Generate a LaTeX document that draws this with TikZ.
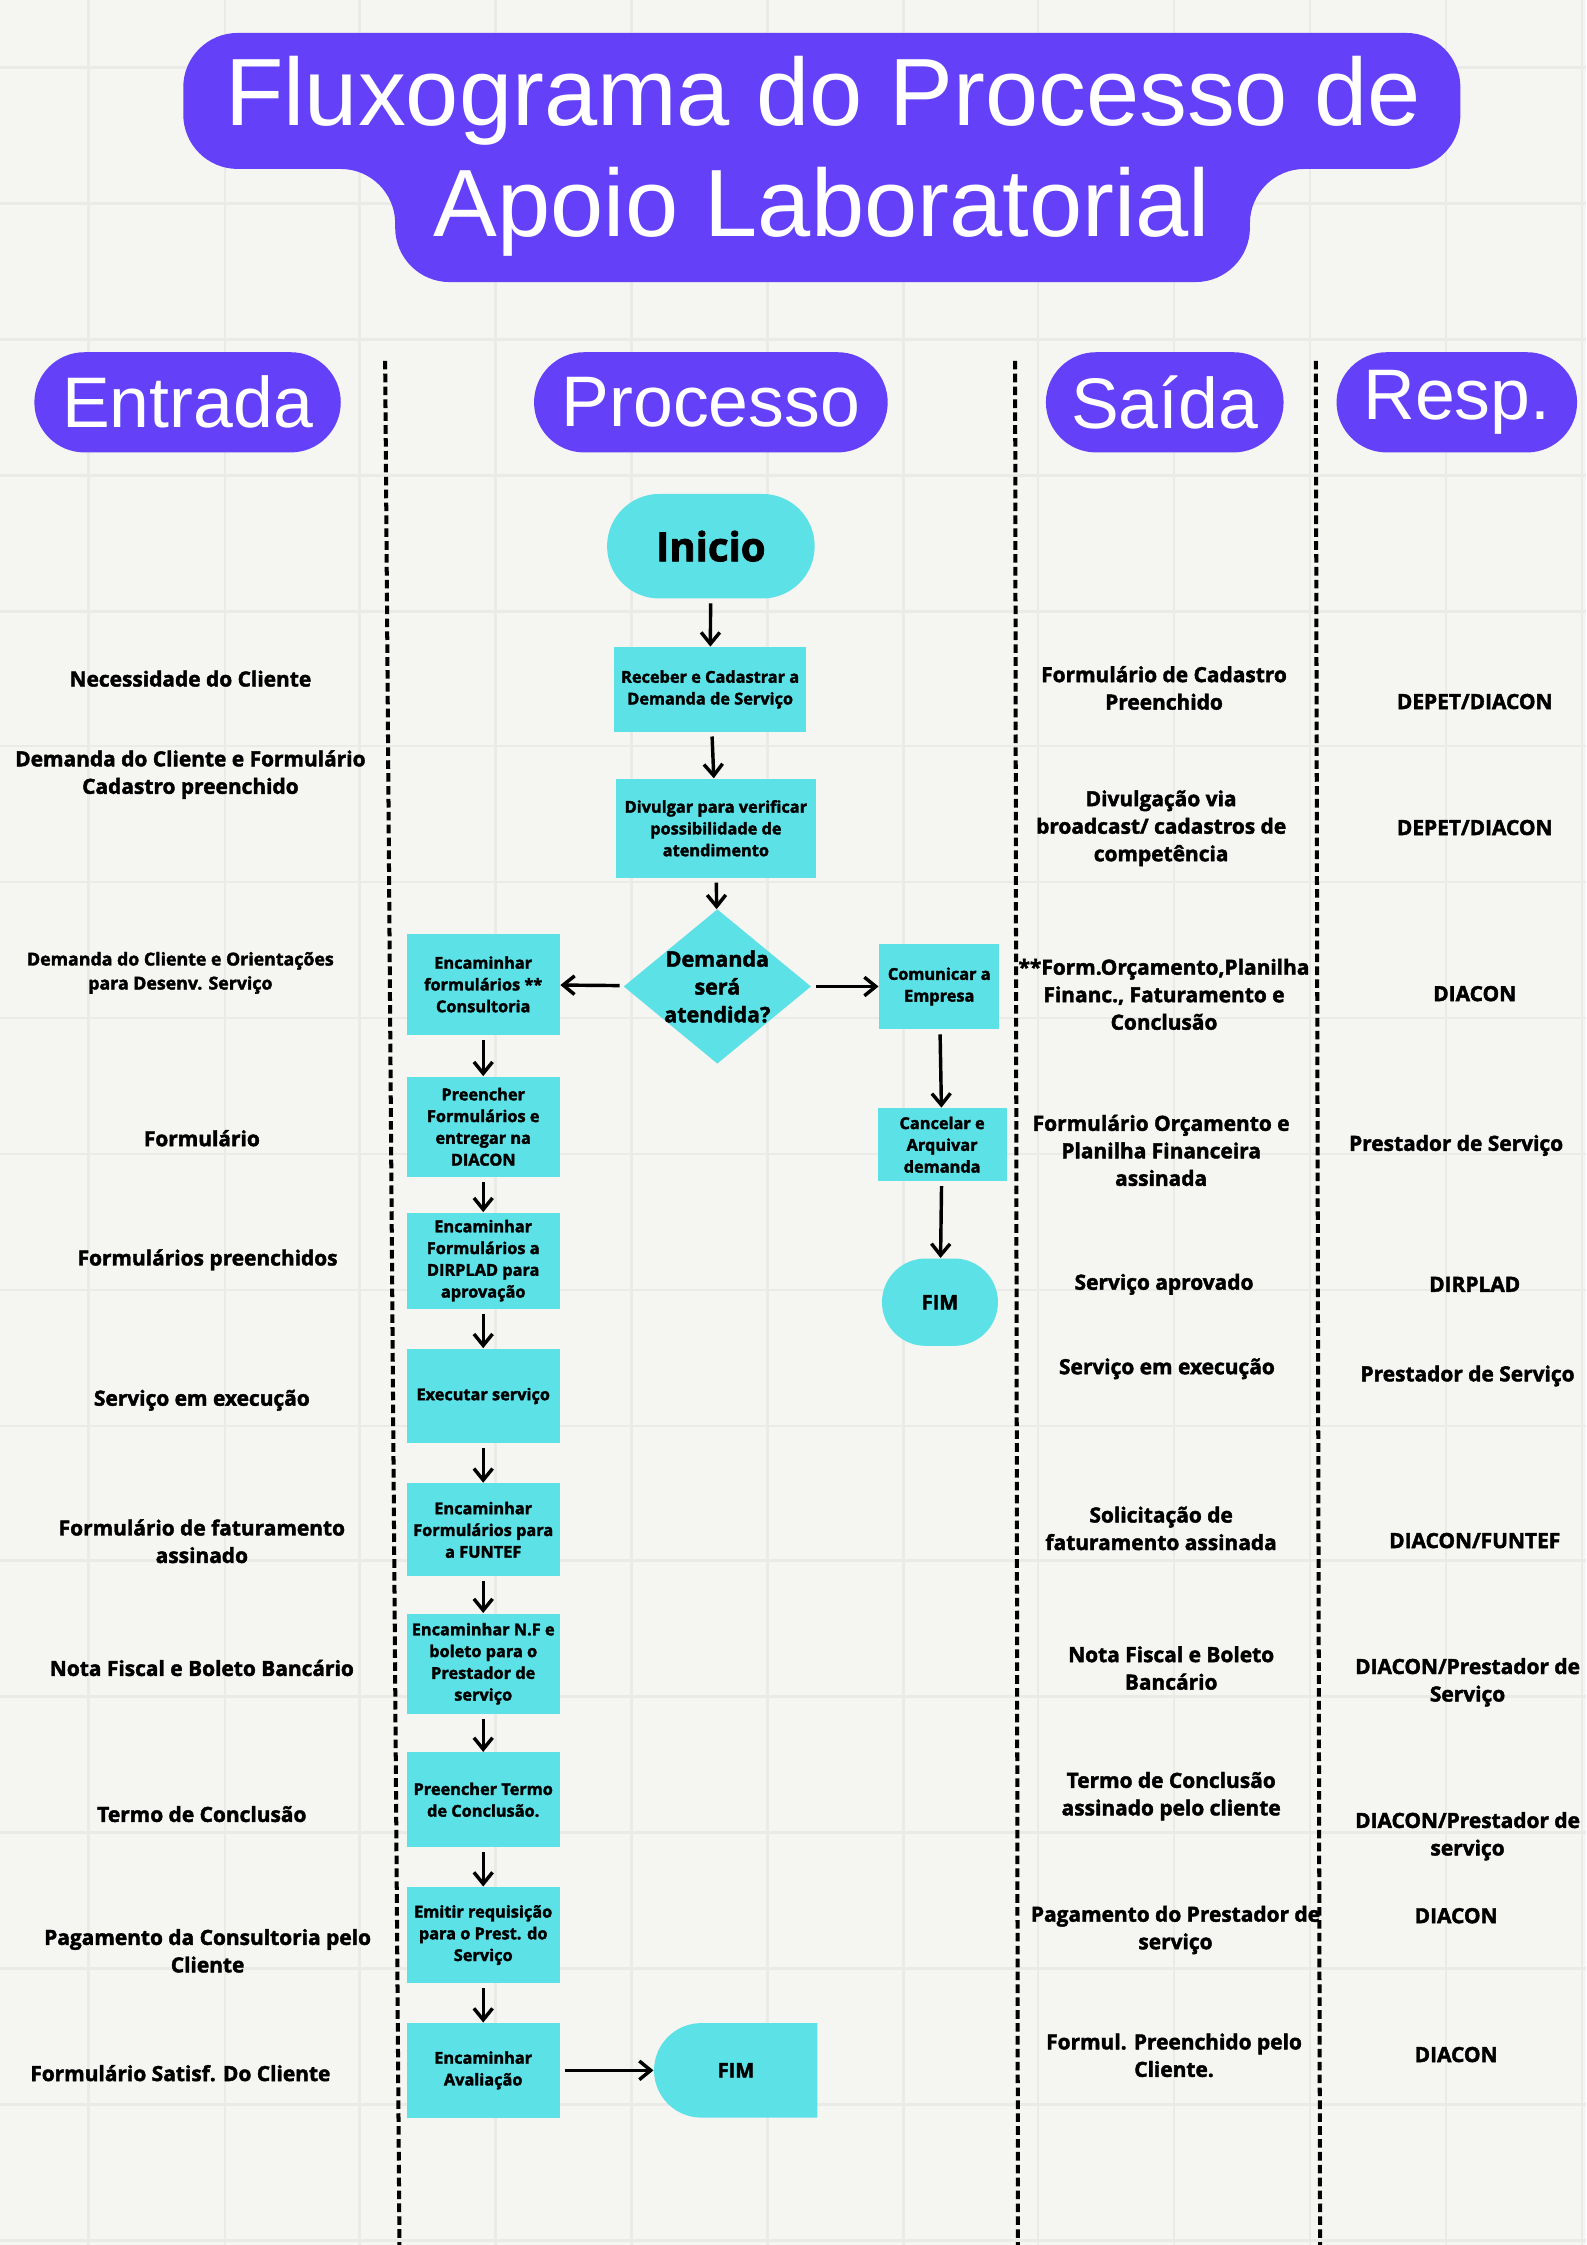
\documentclass[tikz,border=0pt]{standalone}
\usepackage{fontspec}
\setmainfont{Open Sans}[BoldFeatures={FakeBold=2}]
\newfontfamily\titlefont{Liberation Sans}
\usetikzlibrary{arrows.meta,shapes.geometric,shapes.misc}
\definecolor{roxo}{HTML}{6441F9}
\definecolor{ciano}{HTML}{5CE1E6}
\definecolor{fundo}{HTML}{F5F5F1}
\definecolor{linhagrade}{HTML}{EAEAE6}

\begin{document}
\begin{tikzpicture}[x=0.5pt,y=-0.5pt,
        caixa/.style={fill=ciano, align=center, inner sep=1pt, minimum width=53.5pt,
                      font=\fontsize{5.7}{7.6}\selectfont\bfseries},
        terminal/.style={rounded rectangle, fill=ciano, inner sep=1pt,
                         font=\fontsize{7}{8}\selectfont\bfseries},
        pergunta/.style={diamond, fill=ciano, inner sep=-9pt, align=center,
                         minimum width=65.5pt, minimum height=54pt,
                         font=\fontsize{7.5}{9.7}\selectfont\bfseries},
        cabecalho/.style={rounded rectangle, fill=roxo, text=white, minimum height=35pt,
                          inner sep=1pt, font=\titlefont\fontsize{25}{28}\selectfont},
        titulo/.style={text=white, inner sep=0pt, font=\titlefont\fontsize{33.4}{38}\selectfont},
        texto/.style={align=center, inner sep=0pt, font=\fontsize{7.3}{9.6}\selectfont\bfseries},
        divisoria/.style={line width=1.4pt, dash pattern=on 3pt off 1.5pt},
        grade/.style={line width=0.9pt, draw=linhagrade},
        seta/.style={line width=1.2pt, -{Straight Barb[length=4pt,width=6.5pt]}, shorten <=1.5pt}]

    % fundo e grade
    \fill[fundo] (0,0) rectangle (1108,1568);
    \useasboundingbox (0,0) rectangle (1108,1568);
    \foreach \gx in {62,157,251,346,441,536,631,725,820,915,1010,1105}
        \draw[grade] (\gx,0) -- (\gx,1568);
    \foreach \gy in {47,142,237,332,427,521,616,711,806,901,996,1090,1185,1280,1375,1470,1565}
        \draw[grade] (0,\gy) -- (1108,\gy);

    % titulo
    \fill[roxo, rounded corners=19pt] (128,23) -- (1020,23) -- (1020,118) -- (873,118)
        -- (873,197) -- (276,197) -- (276,118) -- (128,118) -- cycle;
    \node[titulo, anchor=base] (titulo1) at (575,88) {Fluxograma do Processo de};
    \node[titulo, anchor=base] (titulo2) at (574,165) {Apoio Laboratorial};

    % colunas
    \node[cabecalho, minimum width=109pt]   (hentrada)  at (131,281)   {Entrada};
    \node[cabecalho, minimum width=125.5pt] (hprocesso) at (496.5,281) {Processo};
    \node[cabecalho, minimum width=85pt]    (hsaida)    at (813.5,281) {Saída};
    \node[cabecalho, minimum width=86pt]    (hresp)     at (1017.5,281) {Resp.};

    \coordinate (div1a) at (269,252);  \coordinate (div1b) at (279,1568);
    \coordinate (div2a) at (709,252);  \coordinate (div2b) at (711,1568);
    \coordinate (div3a) at (919,252);  \coordinate (div3b) at (922,1568);
    \draw[divisoria] (div1a) -- (div1b);
    \draw[divisoria] (div2a) -- (div2b);
    \draw[divisoria] (div3a) -- (div3b);

    % processo
    \node[terminal, minimum width=74.5pt, minimum height=36.5pt,
          font=\fontsize{14}{16}\selectfont\bfseries] (inicio) at (496.5,381.5) {Inicio};
    \node[caixa, minimum width=67pt, minimum height=29.5pt] (receber) at (496,481.5)
        {Receber e Cadastrar a\\Demanda de Serviço};
    \node[caixa, minimum width=70pt, minimum height=34.5pt] (divulgar) at (500,578.5)
        {Divulgar para verificar\\possibilidade de\\atendimento};
    \node[pergunta] (decisao) at (501,689) {Demanda\\será\\atendida?};
    \node[caixa, minimum height=35.5pt] (encform) at (337.5,687.5)
        {Encaminhar\\formulários **\\Consultoria};
    \node[caixa, minimum width=42pt, minimum height=30pt] (comunicar) at (656,689)
        {Comunicar a\\Empresa};
    \node[caixa, minimum width=45pt, minimum height=25.5pt] (cancelar) at (658,799.5)
        {Cancelar e\\Arquivar\\demanda};
    \node[terminal, minimum width=42.5pt, minimum height=30.5pt] (fimdir) at (656.5,909.5) {FIM};
    \node[caixa, minimum height=35pt] (preencher) at (337.5,787)
        {Preencher\\Formulários e\\entregar na\\DIACON};
    \node[caixa, minimum height=33.5pt] (dirplad) at (337.5,880.5)
        {Encaminhar\\Formulários a\\DIRPLAD para\\aprovação};
    \node[caixa, minimum height=33pt] (executar) at (337.5,975) {Executar serviço};
    \node[caixa, minimum height=32.5pt] (funtef) at (337.5,1068.5)
        {Encaminhar\\Formulários para\\a FUNTEF};
    \node[caixa, minimum height=35pt] (nf) at (337.5,1162)
        {Encaminhar N.F e\\boleto para o\\Prestador de\\serviço};
    \node[caixa, minimum height=33pt] (termo) at (337.5,1257)
        {Preencher Termo\\de Conclusão.};
    \node[caixa, minimum height=33.5pt] (emitir) at (337.5,1351.5)
        {Emitir requisição\\para o Prest. do\\Serviço};
    \node[caixa, minimum height=33pt] (avaliacao) at (337.5,1446)
        {Encaminhar\\Avaliação};
    \node[terminal, rounded rectangle right arc=none, minimum width=59pt,
          minimum height=33pt] (fimbaixo) at (514,1446) {FIM};

    \draw[seta] (inicio) -- (receber);
    \draw[seta] (receber) -- (divulgar);
    \draw[seta] (divulgar) -- (decisao);
    \draw[seta] (decisao) -- (encform);
    \draw[seta] (decisao) -- (comunicar);
    \draw[seta] (comunicar) -- (cancelar);
    \draw[seta] (cancelar) -- (fimdir);
    \draw[seta] (encform) -- (preencher);
    \draw[seta] (preencher) -- (dirplad);
    \draw[seta] (dirplad) -- (executar);
    \draw[seta] (executar) -- (funtef);
    \draw[seta] (funtef) -- (nf);
    \draw[seta] (nf) -- (termo);
    \draw[seta] (termo) -- (emitir);
    \draw[seta] (emitir) -- (avaliacao);
    \draw[seta] (avaliacao) -- (fimbaixo);

    % entrada
    \node[texto] (ent1)  at (133,474)  {Necessidade do Cliente};
    \node[texto] (ent2)  at (133,541)  {Demanda do Cliente e Formulário\\Cadastro preenchido};
    \node[texto, font=\fontsize{6.2}{8.4}\selectfont\bfseries] (ent3) at (126,679.5)
        {Demanda do Cliente e Orientações\\para Desenv. Serviço};
    \node[texto] (ent4)  at (141,795)  {Formulário};
    \node[texto] (ent5)  at (145,880)  {Formulários preenchidos};
    \node[texto] (ent6)  at (141,978)  {Serviço em execução};
    \node[texto] (ent7)  at (141,1076.5) {Formulário de faturamento\\assinado};
    \node[texto] (ent8)  at (141,1165) {Nota Fiscal e Boleto Bancário};
    \node[texto] (ent9)  at (141,1267) {Termo de Conclusão};
    \node[texto] (ent10) at (145,1362.5) {Pagamento da Consultoria pelo\\Cliente};
    \node[texto] (ent11) at (126,1448) {Formulário Satisf. Do Cliente};

    % saida
    \node[texto] (sai1)  at (813,480.5) {Formulário de Cadastro\\Preenchido};
    \node[texto] (sai2)  at (811,578.5) {Divulgação via\\broadcast/ cadastros de\\competência};
    \node[texto] (sai3)  at (813,694.5) {**Form.Orçamento,Planilha\\Financ., Faturamento e\\Conclusão};
    \node[texto] (sai4)  at (811,803.5) {Formulário Orçamento e\\Planilha Financeira\\assinada};
    \node[texto] (sai5)  at (813,897)  {Serviço aprovado};
    \node[texto] (sai6)  at (815,956)  {Serviço em execução};
    \node[texto] (sai7)  at (811,1067.5) {Solicitação de\\faturamento assinada};
    \node[texto] (sai8)  at (818,1165) {Nota Fiscal e Boleto\\Bancário};
    \node[texto] (sai9)  at (818,1254.5) {Termo de Conclusão\\assinado pelo cliente};
    \node[texto] (sai10) at (821,1348) {Pagamento do Prestador de\\serviço};
    \node[texto] (sai11) at (820,1435.5) {Formul. Preenchido pelo\\Cliente.};

    % responsavel
    \node[texto] (resp1)  at (1030,490)  {DEPET/DIACON};
    \node[texto] (resp2)  at (1030,578)  {DEPET/DIACON};
    \node[texto] (resp3)  at (1030,694)  {DIACON};
    \node[texto] (resp4)  at (1017,800)  {Prestador de Serviço};
    \node[texto] (resp5)  at (1030,897)  {DIRPLAD};
    \node[texto] (resp6)  at (1025,961)  {Prestador de Serviço};
    \node[texto] (resp7)  at (1030,1076) {DIACON/FUNTEF};
    \node[texto] (resp8)  at (1025,1175) {DIACON/Prestador de\\Serviço};
    \node[texto] (resp9)  at (1025,1282.5) {DIACON/Prestador de\\serviço};
    \node[texto] (resp10) at (1017,1338) {DIACON};
    \node[texto] (resp11) at (1017,1435) {DIACON};
\end{tikzpicture}
\end{document}
